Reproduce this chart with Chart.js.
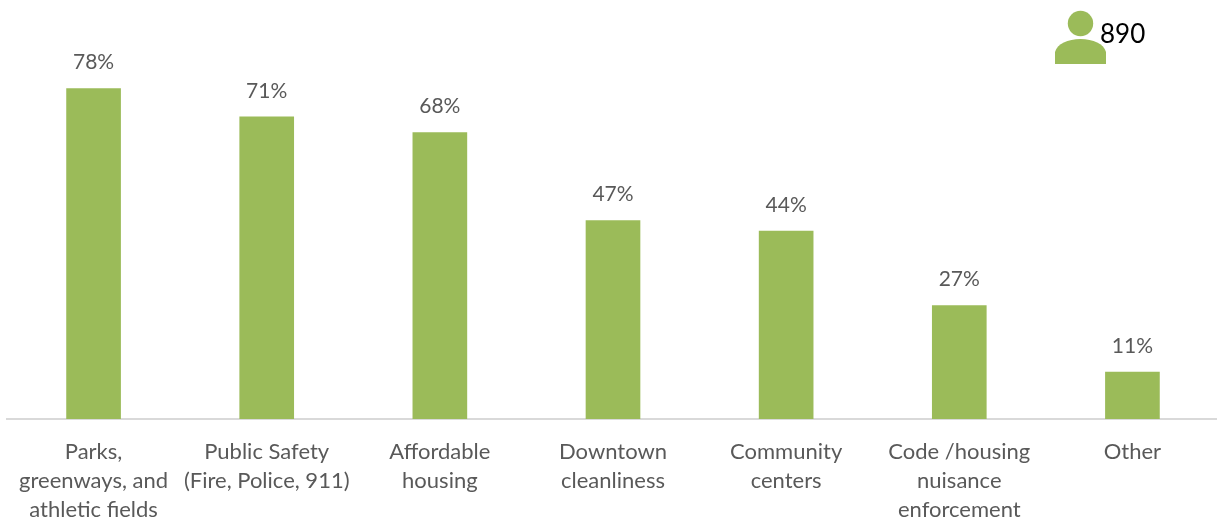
<!DOCTYPE html>
<html>
<head>
<meta charset="utf-8">
<script src="https://cdn.jsdelivr.net/npm/chart.js@4"></script>
<style>
  html, body { margin: 0; padding: 0; background: #fff; overflow: hidden; }
  #wrap { position: relative; width: 1217px; height: 519px; overflow: hidden; }
</style>
</head>
<body>
<div id="wrap"><canvas id="chart" width="1219" height="542"></canvas></div>
<script>
const categories = [
    ['Parks,', 'greenways, and', 'athletic fields'],
    ['Public Safety', '(Fire, Police, 911)'],
    ['Affordable', 'housing'],
    ['Downtown', 'cleanliness'],
    ['Community', 'centers'],
    ['Code /housing', 'nuisance', 'enforcement'],
    ['Other']
];
// bar heights as measured, printed labels are these rounded
const values = [78.1, 71.4, 67.7, 46.9, 44.4, 26.8, 11.1];
const respondents = '890';

const fontFamily = 'Lato, sans-serif';

// data labels above the bars, and the person icon with the count
const overlayPlugin = {
    id: 'overlayPlugin',
    afterDatasetsDraw(chart) {
        const {ctx} = chart;
        ctx.save();
        ctx.fillStyle = '#595959';
        ctx.font = '21px ' + fontFamily;
        ctx.textAlign = 'center';
        ctx.textBaseline = 'middle';
        chart.getDatasetMeta(0).data.forEach((bar, i) => {
            ctx.fillText(Math.round(values[i]) + '%', bar.x, bar.y - 26);
        });
        ctx.fillStyle = '#9bbb59';
        ctx.beginPath();
        ctx.arc(1080.5, 23.5, 12.7, 0, Math.PI * 2);
        ctx.fill();
        ctx.beginPath();
        ctx.moveTo(1055, 64);
        ctx.lineTo(1055, 52);
        ctx.bezierCurveTo(1057, 44, 1068, 39, 1080.5, 39);
        ctx.bezierCurveTo(1093, 39, 1104, 44, 1106, 52);
        ctx.lineTo(1106, 64);
        ctx.closePath();
        ctx.fill();
        ctx.fillStyle = '#000';
        ctx.font = '26px ' + fontFamily;
        ctx.textAlign = 'left';
        ctx.fillText(respondents, 1100, 35);
        ctx.restore();
    }
};

new Chart(document.getElementById('chart').getContext('2d'), {
    type: 'bar',
    data: {
        labels: categories,
        datasets: [{
            data: values,
            backgroundColor: '#9bbb59',
            barThickness: 54,
            borderWidth: 0
        }]
    },
    options: {
        responsive: false,
        animation: false,
        layout: { padding: { left: 7, right: 0, top: 0, bottom: 0 } },
        plugins: {
            legend: { display: false },
            tooltip: { enabled: false }
        },
        scales: {
            x: {
                grid: { display: false, drawTicks: false },
                border: { color: '#d9d9d9', width: 2 },
                ticks: {
                    color: '#595959',
                    font: { family: fontFamily, size: 22, lineHeight: 29 / 22 },
                    maxRotation: 0,
                    autoSkip: false,
                    padding: 18
                }
            },
            y: {
                display: false,
                min: 0,
                max: 99
            }
        }
    },
    plugins: [overlayPlugin]
});
</script>
</body>
</html>
